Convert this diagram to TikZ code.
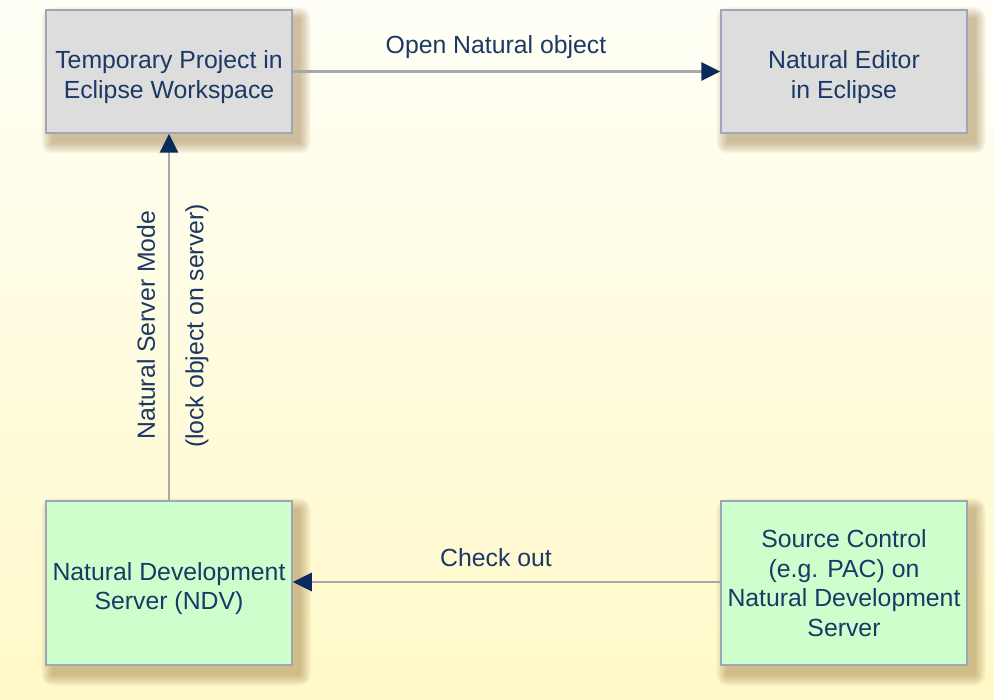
\documentclass[tikz,border=0pt]{standalone}
\usepackage{fontspec}
\setmainfont{Liberation Sans}
\usetikzlibrary{arrows.meta}
\definecolor{txt}{RGB}{28,56,102}
\definecolor{navy}{RGB}{10,42,94}
\definecolor{linec}{RGB}{164,170,170}
\definecolor{boxline}{RGB}{160,166,184}
\definecolor{grayfill}{RGB}{221,221,221}
\definecolor{greenfill}{RGB}{204,255,204}
\definecolor{bgtop}{RGB}{255,255,247}
\definecolor{bgbot}{RGB}{255,249,200}
\definecolor{shadowc}{RGB}{150,110,50}
\pgfdeclarelayer{bglayer}
\pgfdeclarelayer{shlayer}
\pgfsetlayers{bglayer,shlayer,main}
\newcommand{\dropstrut}{\rule{0pt}{29pt}}
\tikzset{
  box/.style={draw=boxline, line width=1.5pt, minimum width=246pt, minimum height=123pt,
    align=center, text=txt, inner sep=0pt,
    font=\fontsize{24.8}{29.5}\selectfont},
  graybox/.style={box, fill=grayfill},
  greenbox/.style={box, fill=greenfill, minimum height=164pt},
  conn/.style={draw=linec, line width=2.8pt, -{Triangle[length=19pt,width=18pt,color=navy]}},
  lbl/.style={text=txt, font=\fontsize{24.8}{29.5}\selectfont, inner sep=0pt},
  shadowpart/.style={fill=shadowc, opacity=0.045}
}
\begin{document}
\begin{tikzpicture}[x=1pt,y=-1pt]
\begin{pgfonlayer}{bglayer}
\shade[top color=bgtop, bottom color=bgbot] (0,0) rectangle (994,700);
\end{pgfonlayer}
\useasboundingbox (0,0) rectangle (994,700);
\node[graybox] (tmp) at (169,71.5) {\dropstrut Temporary Project in\\Eclipse Workspace};
\node[graybox] (edit) at (844,71.5) {\dropstrut Natural Editor\\in Eclipse};
\node[greenbox] (ndv) at (169,583) {\dropstrut Natural Development\\Server (NDV)};
\node[greenbox] (src) at (844,583) {Source Control\\(e.g. PAC) on\\Natural Development\\Server};
\begin{pgfonlayer}{shlayer}
\foreach \n in {tmp,edit,ndv,src}{
  \foreach \r in {0,1,...,11}{
    \fill[shadowpart, rounded corners=\r pt] ([shift={(7-\r,9-\r)}]\n.north west) rectangle ([shift={(7+\r,9+\r)}]\n.south east);
  }
}
\end{pgfonlayer}
\draw[conn] (tmp.east) -- (edit.west);
\draw[conn] (src.west |- 0,582) -- (ndv.east |- 0,582);
\draw[conn] (ndv.north) -- (tmp.south);
\node[lbl] (l1) at (496,47) {Open Natural object};
\node[lbl] (l2) at (496,558) {Check out};
\node[lbl, rotate=90] (l3) at (146,325) {Natural Server Mode};
\node[lbl, rotate=90] (l4) at (197,326) {(lock object on server)};
\end{tikzpicture}
\end{document}
